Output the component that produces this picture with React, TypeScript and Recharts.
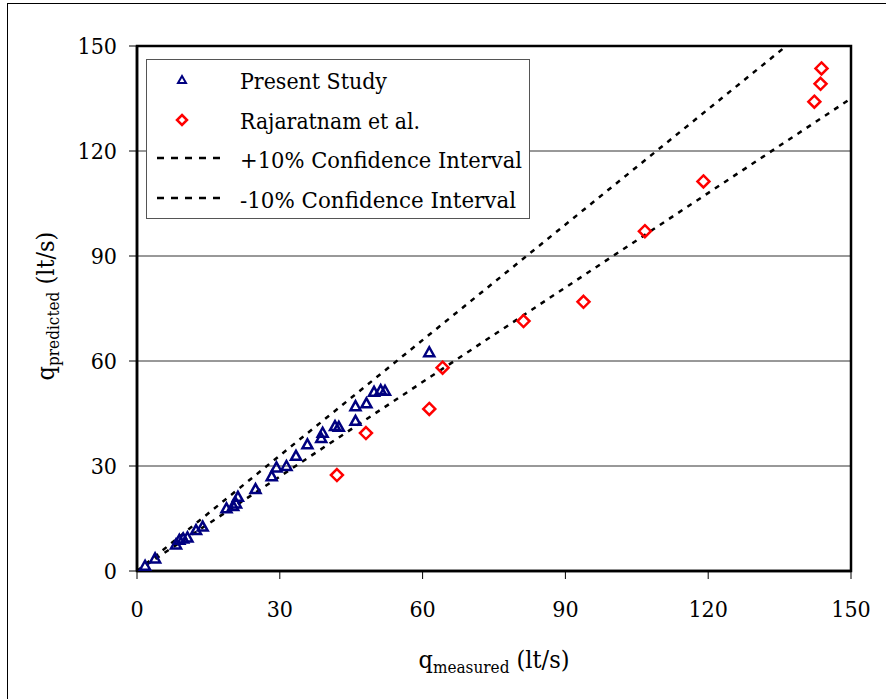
import React from "react";
import {
  CartesianGrid,
  ReferenceArea,
  ReferenceLine,
  Scatter,
  ScatterChart,
  XAxis,
  YAxis,
} from "recharts";

// Present Study (measured, predicted)
const presentX = [1.7, 3.8, 8.2, 8.9, 9.7, 10.6, 12.4, 13.8, 18.8, 20.2, 20.8, 21.2, 24.9, 28.3, 29.3, 31.4, 33.4, 35.8, 38.7, 39.0, 41.6, 42.4, 45.9, 45.9, 48.2, 49.8, 51.2, 52.1, 61.4];
const presentY = [1.5, 3.6, 7.6, 8.9, 9.3, 9.6, 11.7, 12.7, 17.9, 18.6, 19.3, 21.2, 23.4, 27.1, 29.6, 30.0, 32.9, 36.2, 38.0, 39.5, 41.4, 41.2, 42.9, 47.1, 47.9, 51.2, 51.7, 51.5, 62.5];

// Rajaratnam et al.
const rajX = [42.0, 48.1, 61.4, 64.2, 81.2, 93.8, 106.7, 119.0, 142.3, 143.6, 143.8];
const rajY = [27.4, 39.4, 46.3, 58.1, 71.4, 76.9, 97.1, 111.3, 134.1, 139.2, 143.6];

// +/-10% confidence interval end points
const ciUpper = [[0, 0], [136.4, 150]];
const ciLower = [[0, 0], [150, 135]];

const ticks = [0, 30, 60, 90, 120, 150];

const present = presentX.map((x, i) => ({ x, y: presentY[i] }));
const raj = rajX.map((x, i) => ({ x, y: rajY[i] }));

const FONT = "'DejaVu Serif Condensed', 'DejaVu Serif', serif";
const NAVY = "#000080";
const RED = "#FF0000";

const Triangle = (props: any) => {
  const { cx, cy } = props;
  return (
    <path
      d={`M${cx},${cy - 5} L${cx + 5},${cy + 4} L${cx - 5},${cy + 4} Z`}
      fill="none"
      stroke={NAVY}
      strokeWidth={2.5}
    />
  );
};

const Diamond = (props: any) => {
  const { cx, cy } = props;
  return (
    <path
      d={`M${cx},${cy - 6} L${cx + 6},${cy} L${cx},${cy + 6} L${cx - 6},${cy} Z`}
      fill="none"
      stroke={RED}
      strokeWidth={2.5}
    />
  );
};

const legendItems = [
  "Present Study",
  "Rajaratnam et al.",
  "+10% Confidence Interval",
  "-10% Confidence Interval",
];
const legendWidths = [147, 180, 282, 276];

const ChartLegend = () => (
  <div
    style={{
      position: "absolute",
      left: 146,
      top: 59,
      width: 384,
      height: 160,
      boxSizing: "border-box",
      border: "1.5px solid #555",
      background: "#fff",
    }}
  >
    <svg width={382} height={158} style={{ position: "absolute", left: -1.5, top: -1.5 }}>
      <path d="M36,17 L40,24 L32,24 Z" fill="none" stroke={NAVY} strokeWidth={2} />
      <path d="M36,56 L41,61 L36,66 L31,61 Z" fill="none" stroke={RED} strokeWidth={2.5} />
      <line x1={11} y1={99} x2={81} y2={99} stroke="#000" strokeWidth={2.5} strokeDasharray="7 7" />
      <line x1={11} y1={139} x2={81} y2={139} stroke="#000" strokeWidth={2.5} strokeDasharray="7 7" />
      {legendItems.map((t, i) => (
        <text
          key={t}
          x={94}
          y={30 + i * 39.5}
          style={{ fontFamily: FONT, fontStretch: "condensed" }}
          fontSize={23}
          fill="#000"
          textLength={legendWidths[i]}
          lengthAdjust="spacingAndGlyphs"
        >
          {t}
        </text>
      ))}
    </svg>
  </div>
);

const tickStyle = { fill: "#000", fontSize: 23, style: { fontFamily: FONT, fontStretch: "condensed" } };

export default function App() {
  return (
    <div style={{ position: "absolute", left: 0, top: 0, width: 886, height: 699, background: "#fff", fontFamily: FONT }}>
      <div
        style={{
          position: "absolute",
          left: 7,
          top: 3,
          width: 900,
          height: 720,
          borderLeft: "1.5px solid #000",
          borderTop: "1.5px solid #000",
        }}
      />
      <div style={{ position: "absolute", left: 0, top: 0 }}>
        <ScatterChart
          width={886}
          height={699}
          margin={{ top: 46, right: 35, bottom: 68, left: 77 }}
          style={{ fontFamily: FONT }}
        >
          <CartesianGrid vertical={false} stroke="#333" strokeWidth={1} />
          <XAxis
            type="number"
            dataKey="x"
            domain={[0, 150]}
            ticks={ticks}
            height={60}
            tick={tickStyle}
            tickSize={8}
            tickMargin={22}
            axisLine={{ stroke: "#000", strokeWidth: 2.5 }}
            tickLine={{ stroke: "#000" }}
            label={(p: any) => (
              <text x={494} y={668} textAnchor="middle" style={{ fontFamily: FONT, fontStretch: "condensed" }} fill="#000">
                <tspan fontSize={25}>q</tspan>
                <tspan fontSize={17} dy={5}>measured</tspan>
                <tspan fontSize={25} dy={-5}> (lt/s)</tspan>
              </text>
            )}
          />
          <YAxis
            type="number"
            dataKey="y"
            domain={[0, 150]}
            ticks={ticks}
            width={60}
            tick={tickStyle}
            tickSize={8}
            tickMargin={12}
            axisLine={{ stroke: "#000", strokeWidth: 2.5 }}
            tickLine={{ stroke: "#000" }}
            label={(p: any) => (
              <text
                x={54}
                y={306}
                transform="rotate(-90 54 306)"
                textAnchor="middle"
                style={{ fontFamily: FONT, fontStretch: "condensed" }}
                fill="#000"
              >
                <tspan fontSize={25}>q</tspan>
                <tspan fontSize={17} dy={5}>predicted</tspan>
                <tspan fontSize={25} dy={-5}> (lt/s)</tspan>
              </text>
            )}
          />
          <ReferenceArea x1={0} x2={150} y1={0} y2={150} fill="none" stroke="#000" strokeWidth={2.5} />
          <ReferenceLine
            segment={[{ x: ciUpper[0][0], y: ciUpper[0][1] }, { x: ciUpper[1][0], y: ciUpper[1][1] }]}
            stroke="#000"
            strokeWidth={2.5}
            strokeDasharray="5 6"
          />
          <ReferenceLine
            segment={[{ x: ciLower[0][0], y: ciLower[0][1] }, { x: ciLower[1][0], y: ciLower[1][1] }]}
            stroke="#000"
            strokeWidth={2.5}
            strokeDasharray="5 6"
          />
          <Scatter name="Present Study" data={present} shape={Triangle} isAnimationActive={false} />
          <Scatter name="Rajaratnam et al." data={raj} shape={Diamond} isAnimationActive={false} />
        </ScatterChart>
      </div>
      <ChartLegend />
    </div>
  );
}
